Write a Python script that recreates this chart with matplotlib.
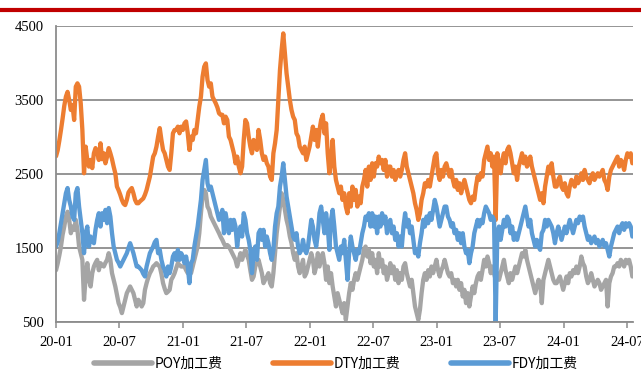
import matplotlib
matplotlib.use("Agg")
import matplotlib.pyplot as plt
import pandas as pd
from matplotlib.lines import Line2D

plt.rcParams["font.family"] = ["Noto Sans CJK SC", "DejaVu Sans"]

# 加工费 (元/吨), 2020-01 ~ 2024-07
poy = [
    1200, 1290, 1400, 1520, 1680, 1790, 1925, 1990, 1880, 1700, 1790, 1745, 1880, 1745, 1520, 1430, 1340, 800, 1110, 1295,
    1070, 980, 1160, 1250, 1300, 1340, 1200, 1295, 1270, 1250, 1300, 1340, 1430, 1340, 1160, 1070, 980, 870, 755, 700,
    620, 710, 800, 890, 935, 980, 935, 890, 800, 710,
    800, 760, 710, 755, 935, 1025, 1100, 1160, 1200, 1250, 1270, 1295, 1270, 1250, 1150, 1025, 950, 890, 910, 935,
    1070, 1110, 1160, 1230, 1295, 1270, 1250, 1250, 1250, 1200, 1160, 1160, 1160, 1250, 1340, 1430, 1520, 1700, 1970, 2195,
    2285, 2240, 2060, 2015, 1925, 1880, 1835, 1790, 1745, 1700, 1650,
    1610, 1560, 1520, 1540, 1520, 1475, 1430, 1385, 1340, 1250, 1340, 1430, 1340, 1420, 1475, 1400, 1340, 1200, 1070, 1115,
    1250, 1300, 1340, 1250, 1160, 1025, 1070, 1110, 1160, 1025, 980, 1160, 1430, 1700, 1880, 2060, 2240, 2150, 2015, 1880,
    1790, 1655, 1565, 1430, 1340, 1430, 1250, 1160, 1250, 1340, 1115,
    1160, 1250, 1340, 1430, 1340, 1160, 1250, 1430, 1250, 1340, 1430, 1295, 1070, 1250, 1025, 1160, 980, 845, 710, 890,
    800, 710, 620, 755, 530, 710, 890, 1025, 935, 1070, 1160, 1070, 1160, 1250, 1340, 1475, 1520, 1385, 1475, 1295,
    1430, 1250, 1340, 1160, 1430, 1250, 1340, 1160, 1250, 1070, 1160,
    1295, 1160, 1250, 1070, 1200, 1025, 1160, 1070, 1250, 1295, 1160, 1070, 980, 1070, 890, 710, 620, 530, 665, 890,
    1070, 1160, 1070, 1200, 1115, 1250, 1160, 1250, 1340, 1200, 1115, 1200, 1250, 1340, 1250, 1160, 1115, 1160, 1025, 1070,
    980, 1070, 935, 1025, 845, 935, 755, 890, 710, 845, 980,
    890, 1025, 1115, 1160, 1070, 1200, 1340, 1250, 1385, 1295, 1160, 1250, 1160, 1070, 1160, 1070, 1160, 1250, 1340, 1200,
    1115, 1025, 1160, 1070, 1160, 1250, 1160, 1250, 1340, 1430, 1385, 1475, 1340, 1250, 1160, 1070, 980, 890, 980, 1070,
    1025, 755, 1070, 1160, 1250, 1340, 1250, 1160, 1070, 1025,
    1025, 1070, 1115, 1025, 935, 1025, 1115, 1025, 1160, 1115, 1200, 1160, 1250, 1160, 1250, 1385, 1295, 1250, 1115, 1025,
    1070, 1160, 1070, 980, 1025, 1070, 1025, 935, 980, 1025, 1070, 710, 1025, 1115, 1160, 1250, 1250, 1295, 1250, 1340,
    1295, 1250, 1340, 1295, 1340, 1250, 1115,
]

dty = [
    2740, 2820, 2950, 3095, 3250, 3420, 3545, 3610, 3500, 3365, 3430, 3230, 3680, 3725, 3680, 3455, 3095, 2510, 2870, 2690,
    2600, 2690, 2580, 2780, 2850, 2800, 2690, 2915, 2700, 2780, 2645, 2735, 2850, 2780, 2700, 2600, 2510, 2330, 2280, 2220,
    2150, 2100, 2080, 2150, 2250, 2285, 2310, 2240, 2150, 2105,
    2105, 2130, 2150, 2170, 2220, 2285, 2375, 2465, 2600, 2735, 2780, 2870, 3005, 3120, 2960, 2825, 2780, 2690, 2600, 2555,
    2780, 3050, 3095, 3095, 3140, 3050, 3140, 3095, 3185, 3210, 3050, 2825, 3005, 2960, 3095, 3050, 3230, 3410, 3545, 3815,
    3950, 3995, 3770, 3680, 3725, 3545, 3500, 3455, 3400, 3320, 3300,
    3300, 3185, 3275, 3230, 3005, 2960, 2870, 2780, 2645, 2735, 2600, 2510, 2600, 2960, 3230, 3185, 3005, 2870, 2780, 2960,
    2870, 2825, 3095, 2960, 2780, 2690, 2735, 2645, 2600, 2465, 2420, 2780, 2915, 3095, 3500, 3905, 4175, 4400, 4130, 3860,
    3680, 3500, 3365, 3275, 3230, 3050, 3005, 2870, 2825, 2780, 2870,
    2690, 2780, 2870, 3005, 3140, 2960, 3095, 2870, 3095, 3230, 3300, 3050, 3185, 2780, 2510, 2690, 2960, 2600, 2420, 2330,
    2240, 2330, 2150, 2240, 2060, 1970, 2240, 2060, 2330, 2150, 2285, 2060, 2195, 2105, 2330, 2420, 2555, 2330, 2600, 2420,
    2645, 2465, 2645, 2600, 2735, 2645, 2690, 2555, 2690, 2465, 2600,
    2600, 2465, 2555, 2420, 2510, 2555, 2465, 2555, 2690, 2780, 2600, 2510, 2420, 2330, 2240, 2105, 2015, 1880, 1970, 2150,
    2240, 2375, 2330, 2420, 2330, 2465, 2600, 2735, 2780, 2510, 2420, 2555, 2465, 2600, 2645, 2555, 2465, 2555, 2420, 2330,
    2420, 2285, 2375, 2240, 2330, 2420, 2330, 2240, 2150, 2105, 2195,
    2150, 2330, 2465, 2420, 2510, 2465, 2690, 2780, 2870, 2690, 2780, 2600, 2735, 1880, 2780, 2600, 2510, 2690, 2780, 2645,
    2825, 2870, 2780, 2645, 2510, 2600, 2420, 2600, 2690, 2780, 2645, 2735, 2600, 2645, 2735, 2600, 2510, 2420, 2330, 2240,
    2150, 2240, 2105, 2330, 2465, 2600, 2510, 2645, 2465, 2330,
    2330, 2420, 2465, 2330, 2285, 2375, 2240, 2195, 2330, 2420, 2375, 2330, 2465, 2375, 2420, 2510, 2420, 2555, 2465, 2420,
    2375, 2465, 2510, 2420, 2465, 2510, 2465, 2510, 2555, 2420, 2375, 2285, 2465, 2555, 2600, 2645, 2690, 2735, 2600, 2690,
    2645, 2555, 2690, 2780, 2735, 2780, 2645,
]

fdy = [
    1520, 1580, 1700, 1835, 1970, 2100, 2240, 2310, 2150, 2060, 1925, 1880, 2240, 2310, 2060, 1880, 1700, 1430, 1700, 1790,
    1520, 1655, 1600, 1565, 1750, 1880, 1970, 1790, 1970, 1880, 2015, 1835, 2040, 1925, 1700, 1520, 1430, 1340, 1300, 1250,
    1295, 1340, 1385, 1430, 1500, 1565, 1500, 1430, 1340, 1250,
    1250, 1225, 1200, 1150, 1115, 1250, 1340, 1430, 1475, 1520, 1580, 1610, 1430, 1475, 1340, 1250, 1200, 1115, 1250, 1160,
    1250, 1385, 1430, 1340, 1475, 1340, 1430, 1385, 1295, 1385, 1250, 1025, 1295, 1340, 1520, 1655, 1790, 1970, 2150, 2420,
    2555, 2690, 2375, 2285, 2330, 2240, 2150, 2060, 1970, 1880, 1925,
    2015, 1700, 1970, 1835, 1700, 1880, 1745, 1880, 1790, 1520, 1700, 1790, 1655, 1970, 1880, 1700, 1610, 1475, 1160, 1430,
    1520, 1340, 1700, 1745, 1610, 1745, 1520, 1655, 1565, 1430, 1340, 1475, 1790, 1970, 2060, 2330, 2465, 2645, 2420, 2195,
    2060, 1925, 1790, 1655, 1610, 1700, 1520, 1430, 1475, 1610, 1475,
    1430, 1520, 1700, 1880, 1790, 1610, 1520, 1700, 1970, 2060, 1880, 1700, 1970, 1790, 1475, 1880, 2015, 1790, 1520, 1430,
    1340, 1520, 1430, 1610, 1340, 1070, 1430, 1655, 1520, 1430, 1340, 1475, 1430, 1565, 1700, 1790, 1925, 1880, 1970, 1790,
    1970, 1790, 1925, 1700, 1925, 1790, 1970, 1835, 1925, 1700, 1835,
    1880, 1700, 1790, 1610, 1700, 1520, 1655, 1520, 1790, 1970, 1790, 1880, 1700, 1790, 1610, 1430, 1475, 1385, 1565, 1700,
    1880, 1790, 1925, 1835, 1970, 1880, 2015, 2150, 2060, 1925, 1790, 1880, 1970, 2060, 2060, 1925, 1880, 1790, 1835, 1700,
    1745, 1610, 1700, 1565, 1700, 1520, 1430, 1475, 1295, 1430, 1520,
    1700, 1790, 1880, 1790, 1880, 1835, 1970, 2060, 2015, 1970, 1880, 1925, 1880, 500, 1700, 1790, 1610, 1745, 1880, 1790,
    1925, 1880, 1700, 1790, 1610, 1700, 1610, 1700, 1790, 1880, 1970, 2060, 1925, 1790, 1880, 1700, 1610, 1520, 1610, 1520,
    1475, 1700, 1745, 1880, 1790, 1880, 1835, 1790, 1700, 1565,
    1700, 1790, 1700, 1610, 1700, 1790, 1700, 1790, 1880, 1790, 1700, 1790, 1880, 1835, 1925, 1880, 1925, 1790, 1700, 1610,
    1655, 1565, 1610, 1655, 1565, 1610, 1520, 1565, 1610, 1520, 1565, 1475, 1385, 1520, 1610, 1700, 1745, 1790, 1700, 1790,
    1835, 1745, 1835, 1790, 1835, 1790, 1655,
]

assert len(poy) == len(dty) == len(fdy)
dates = pd.date_range("2020-01-01", "2024-07-17", periods=len(dty))

series = [("POY加工费", poy, "#A5A5A5"), ("DTY加工费", dty, "#ED7D31"), ("FDY加工费", fdy, "#5B9BD5")]
x_ticks = pd.date_range("2020-01-01", "2024-07-01", freq="6MS")
y_ticks = [500, 1500, 2500, 3500, 4500]

fig = plt.figure(figsize=(6.41, 3.72), dpi=100)
ax = fig.add_axes([0.0874, 0.1344, 0.9002, 0.7957])

for name, vals, color in series:
    ax.plot(dates, vals, color=color, lw=3.1, label=name,
            solid_joinstyle="round", solid_capstyle="round")

ax.set_ylim(500, 4500)
ax.set_xlim(pd.Timestamp("2020-01-01"), pd.Timestamp("2024-07-19"))
ax.set_yticks(y_ticks)
ax.set_xticks(x_ticks)
ax.set_xticklabels([d.strftime("%y-%m") for d in x_ticks])
ax.grid(axis="y", color="#8C8C8C", lw=1.3)
ax.set_axisbelow(True)

for side in ["top", "right"]:
    ax.spines[side].set_visible(False)
for side in ["left", "bottom"]:
    ax.spines[side].set_color("#8C8C8C")
    ax.spines[side].set_linewidth(1.3)

serif = "Liberation Serif"
ax.tick_params(axis="y", length=0, pad=9, labelsize=10.5)
ax.tick_params(axis="x", direction="out", length=4, width=1.1, color="#8C8C8C", pad=6, labelsize=10.5)
for lab in ax.get_xticklabels() + ax.get_yticklabels():
    lab.set_fontfamily(serif)

# red rule across the header
fig.add_artist(Line2D([0, 1], [1 - 9.5 / 372] * 2, color="#C00000", lw=3, transform=fig.transFigure))

fig.legend(loc="center", bbox_to_anchor=(0.524, 1 - 363.5 / 372), ncol=3, frameon=False,
           handlelength=4.2, handletextpad=0.2, columnspacing=3.6, fontsize=10)
for h in fig.legends[0].get_lines():
    h.set_linewidth(4)

fig.savefig("out.png", dpi=100)
